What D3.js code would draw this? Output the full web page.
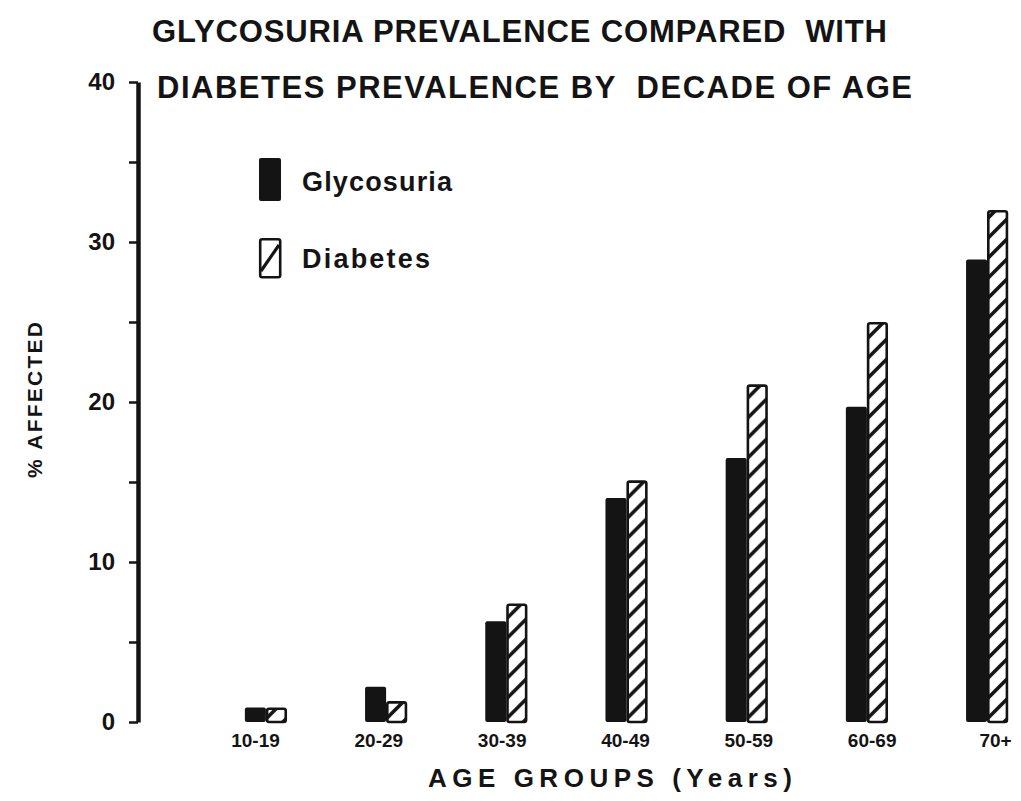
<!DOCTYPE html>
<html><head><meta charset="utf-8">
<script src="https://cdn.jsdelivr.net/npm/d3@7"></script>
<style>body{margin:0;background:#fff}svg{display:block}</style>
</head><body>
<svg id="c" width="1021" height="801"></svg>
<script>
const categories = ["10-19","20-29","30-39","40-49","50-59","60-69","70+"];
const glycosuria = [0.9, 2.2, 6.3, 14.0, 16.5, 19.7, 28.9];
const diabetes   = [0.9, 1.3, 7.4, 15.1, 21.1, 25.0, 32.0];
const yTicks = [0, 10, 20, 30, 40];
const yMinorTicks = [5, 15, 25, 35];
const seriesNames = ["Glycosuria", "Diabetes"];
const titleLines = ["GLYCOSURIA PREVALENCE COMPARED  WITH", "DIABETES PREVALENCE BY  DECADE OF AGE"];
const xTitle = "AGE GROUPS (Years)";
const yTitle = "% AFFECTED";

const ink = "#141414";
const font = "'Liberation Sans', Arial, sans-serif";
const svg = d3.select("#c");

const y = d3.scaleLinear().domain([0, 40]).range([722, 82]);
const x = d3.scaleBand().domain(categories).range([205.8, 1047.2])
  .paddingInner(0.65).paddingOuter(0.325);
const xLab = d3.scalePoint().domain(categories).range([255, 995]);
const half = x.bandwidth() / 2;

// hatch pattern
const defs = svg.append("defs");
const pat = defs.append("pattern").attr("id", "hatch")
  .attr("patternUnits", "userSpaceOnUse").attr("width", 20).attr("height", 20);
pat.append("rect").attr("width", 20).attr("height", 20).attr("fill", "#fff");
pat.append("path").attr("d", "M-5,25 L25,-5 M-5,5 L5,-5 M15,25 L25,15")
  .attr("stroke", ink).attr("stroke-width", 3.6);

// titles
svg.selectAll("text.title").data(titleLines).join("text")
  .attr("class", "title")
  .attr("x", (d, i) => i === 0 ? 152 : 157)
  .attr("y", (d, i) => i === 0 ? 42 : 98)
  .attr("textLength", (d, i) => i === 0 ? 735 : 755)
  .attr("lengthAdjust", "spacing")
  .attr("font-family", font).attr("font-weight", "bold").attr("font-size", 31)
  .attr("fill", ink).style("white-space", "pre").text(d => d);

// y axis
const yAxis = svg.append("g").attr("transform", "translate(138,0)")
  .call(d3.axisLeft(y).tickValues(yTicks).tickSize(9).tickSizeOuter(0).tickPadding(14));
yAxis.select(".domain").attr("stroke", ink).attr("stroke-width", 4.5);
yAxis.selectAll(".tick line").attr("stroke", ink).attr("stroke-width", 2.5);
yAxis.selectAll(".tick text").attr("font-family", font).attr("font-weight", "bold")
  .attr("font-size", 24).attr("fill", ink);
const yMinor = svg.append("g").attr("transform", "translate(138,0)")
  .call(d3.axisLeft(y).tickValues(yMinorTicks).tickSize(9).tickFormat(""));
yMinor.select(".domain").remove();
yMinor.selectAll(".tick line").attr("stroke", ink).attr("stroke-width", 2.5);

// bars
const groups = svg.append("g").selectAll("g").data(categories).join("g")
  .attr("transform", d => `translate(${x(d)},0)`);
groups.append("rect")
  .attr("x", 0).attr("width", half)
  .attr("y", (d, i) => y(glycosuria[i]))
  .attr("height", (d, i) => y(0) - y(glycosuria[i]))
  .attr("rx", 2).attr("fill", ink);
groups.append("rect")
  .attr("x", half + 1.2).attr("width", half - 2.4)
  .attr("y", (d, i) => y(diabetes[i]) + 1.2)
  .attr("height", (d, i) => y(0) - y(diabetes[i]) - 1.2)
  .attr("rx", 2).attr("fill", "url(#hatch)")
  .attr("stroke", ink).attr("stroke-width", 2.6);

// x labels
const xAxis = svg.append("g").attr("transform", `translate(0,${y(0)})`)
  .call(d3.axisBottom(xLab).tickSize(0).tickPadding(12));
xAxis.select(".domain").remove();
xAxis.selectAll(".tick text").attr("font-family", font).attr("font-weight", "bold")
  .attr("font-size", 19).attr("fill", ink);

// axis titles
svg.append("text").attr("x", 428).attr("y", 787)
  .attr("textLength", 364).attr("lengthAdjust", "spacing")
  .attr("font-family", font).attr("font-weight", "bold").attr("font-size", 26)
  .attr("fill", ink).text(xTitle);
svg.append("text").attr("transform", "translate(42,478) rotate(-90)")
  .attr("textLength", 156).attr("lengthAdjust", "spacing")
  .attr("font-family", font).attr("font-weight", "bold").attr("font-size", 21)
  .attr("fill", ink).text(yTitle);

// legend
const leg = svg.append("g");
leg.append("rect").attr("x", 259).attr("y", 158).attr("width", 22).attr("height", 43)
  .attr("rx", 2).attr("fill", ink);
leg.append("rect").attr("x", 260.2).attr("y", 239.2).attr("width", 20).attr("height", 38)
  .attr("rx", 2).attr("fill", "#fff").attr("stroke", ink).attr("stroke-width", 2.6);
leg.append("path").attr("d", "M261,271 L279,245").attr("stroke", ink).attr("stroke-width", 3.2);
leg.selectAll("text").data(seriesNames).join("text")
  .attr("x", 302).attr("y", (d, i) => i === 0 ? 191 : 268)
  .attr("textLength", (d, i) => i === 0 ? 150 : 128).attr("lengthAdjust", "spacing")
  .attr("font-family", font).attr("font-weight", "bold").attr("font-size", 27)
  .attr("fill", ink).text(d => d);
</script>
</body></html>
